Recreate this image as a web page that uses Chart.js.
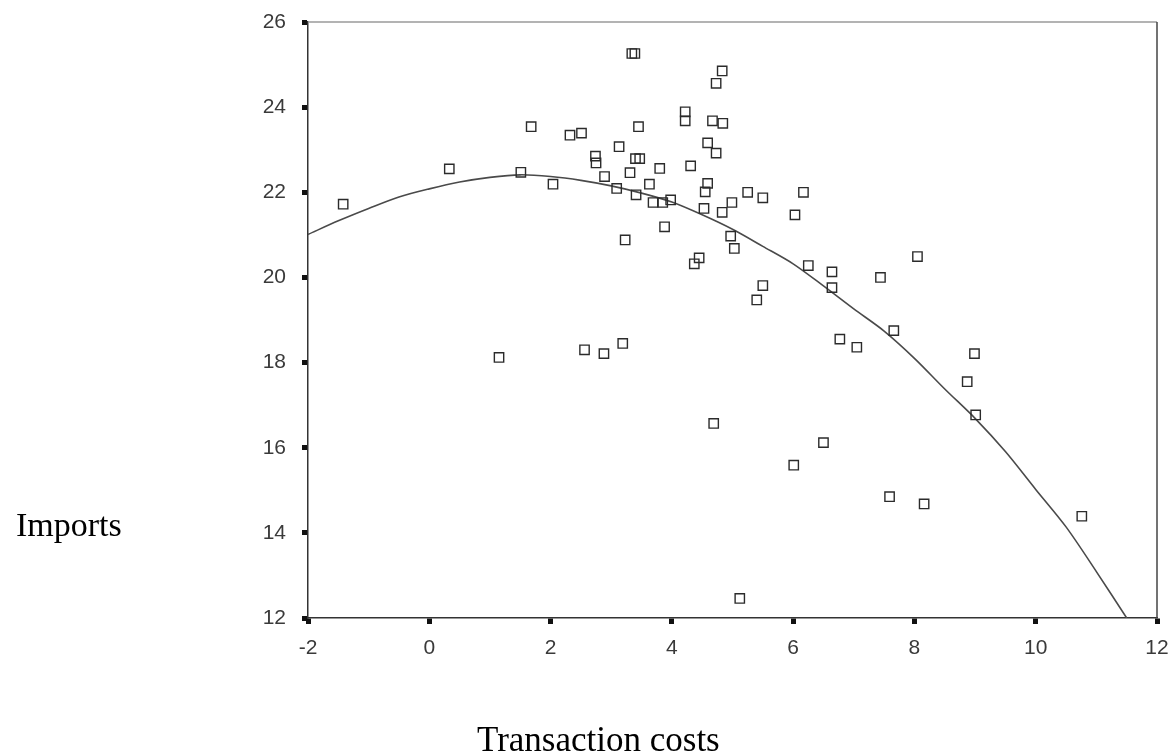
<!DOCTYPE html>
<html>
<head>
<meta charset="utf-8">
<script src="https://cdn.jsdelivr.net/npm/chart.js@4.4.1/dist/chart.umd.min.js"></script>
<style>
  html, body { margin: 0; padding: 0; background: #ffffff; overflow: hidden; }
  #wrap { position: relative; width: 1169px; height: 755px; }
  canvas { position: absolute; left: 0; top: 0; }
  .ttl { position: absolute; font-family: 'Liberation Serif', 'Times New Roman', Times, serif; font-size: 34px; line-height: 34px; color: #000; white-space: nowrap; }
</style>
</head>
<body>
<div id="wrap">
  <canvas id="c" width="1169" height="755"></canvas>
  <div class="ttl" id="ytitle" style="left:16px; top:508px;">Imports</div>
  <div class="ttl" id="xtitle" style="left:477px; top:723px; font-size:35px;">Transaction costs</div>
</div>
<script>
// Observed points: transaction costs (x) and imports (y)
const transactionCosts = [
  -1.42, 0.33, 1.15, 1.51, 1.68, 2.04, 2.32, 2.51, 2.56, 2.74,
  2.75, 2.89, 2.88, 3.13, 3.09, 3.19, 3.23, 3.31, 3.34, 3.39,
  3.40, 3.47, 3.41, 3.45, 3.63, 3.69, 3.80, 3.85, 3.88, 3.98,
  4.22, 4.22, 4.31, 4.37, 4.45, 4.53, 4.55, 4.59, 4.59, 4.67,
  4.69, 4.73, 4.73, 4.83, 4.84, 4.83, 4.99, 4.97, 5.03, 5.12,
  5.25, 5.40, 5.50, 5.50, 6.03, 6.01, 6.17, 6.25, 6.50, 6.64,
  6.64, 6.77, 7.05, 7.44, 7.59, 7.66, 8.05, 8.16, 8.87, 8.99,
  9.01, 10.76
];
const imports = [
  21.72, 22.55, 18.12, 22.47, 23.54, 22.19, 23.34, 23.39, 18.30, 22.85,
  22.69, 22.37, 18.21, 23.07, 22.09, 18.45, 20.88, 22.46, 25.26, 25.26,
  22.79, 22.79, 21.94, 23.54, 22.19, 21.76, 22.56, 21.76, 21.19, 21.82,
  23.89, 23.68, 22.62, 20.32, 20.46, 21.62, 22.01, 22.21, 23.16, 23.68,
  16.57, 24.56, 22.92, 21.53, 23.62, 24.85, 21.76, 20.97, 20.68, 12.46,
  22.00, 19.47, 21.87, 19.81, 21.47, 15.59, 22.00, 20.28, 16.12, 20.13,
  19.76, 18.55, 18.36, 20.00, 14.85, 18.75, 20.49, 14.68, 17.55, 18.21,
  16.77, 14.39
];

// Fitted curve
const fitX = [-2.0, -1.5, -1.0, -0.5, 0.0, 0.5, 1.0, 1.5, 2.0, 2.5, 3.0, 3.5, 4.0, 4.5,
              5.0, 5.5, 6.0, 6.5, 7.0, 7.5, 8.0, 8.5, 9.0, 9.5, 10.0, 10.5, 11.0, 11.5];
const fitY = [21.01, 21.33, 21.62, 21.89, 22.08, 22.24, 22.35, 22.41, 22.37, 22.28, 22.15, 21.98, 21.77, 21.47,
              21.13, 20.73, 20.32, 19.80, 19.26, 18.74, 18.10, 17.38, 16.69, 15.91, 15.02, 14.14, 13.09, 12.00];

// Tick labels
const xTickValues = [-2, 0, 2, 4, 6, 8, 10, 12];
const xTickLabels = ['-2', '0', '2', '4', '6', '8', '10', '12'];
const yTickValues = [12, 14, 16, 18, 20, 22, 24, 26];
const yTickLabels = ['12', '14', '16', '18', '20', '22', '24', '26'];

const points = transactionCosts.map((x, i) => ({ x: x, y: imports[i] }));
const curve = fitX.map((x, i) => ({ x: x, y: fitY[i] }));

const tickFont = { family: "'Liberation Sans Narrow', 'Arial Narrow', 'Liberation Sans', Arial, sans-serif", size: 21 };

const framePlugin = {
  id: 'frame',
  afterDraw(chart) {
    const a = chart.chartArea, ctx = chart.ctx;
    ctx.save();
    ctx.lineWidth = 1.5;
    ctx.strokeStyle = '#9a9a9a';
    ctx.beginPath();
    ctx.moveTo(a.left, a.top);
    ctx.lineTo(a.right, a.top);
    ctx.stroke();
    ctx.strokeStyle = '#444444';
    ctx.beginPath();
    ctx.moveTo(a.right, a.top);
    ctx.lineTo(a.right, a.bottom);
    ctx.stroke();
    ctx.restore();
  }
};

new Chart(document.getElementById('c'), {
  type: 'scatter',
  data: {
    datasets: [
      {
        label: 'Imports',
        data: points,
        pointStyle: 'rect',
        pointRadius: 6.6,
        pointHoverRadius: 6.6,
        borderColor: '#2b2b2b',
        backgroundColor: 'rgba(0,0,0,0)',
        borderWidth: 1.4,
        order: 1
      },
      {
        label: 'Fit',
        data: curve,
        showLine: true,
        pointRadius: 0,
        pointHoverRadius: 0,
        borderColor: '#4a4a4a',
        borderWidth: 1.6,
        tension: 0.3,
        fill: false,
        order: 2
      }
    ]
  },
  options: {
    responsive: false,
    animation: false,
    events: [],
    layout: { padding: { left: 248, right: 12, top: 22, bottom: 0 } },
    plugins: { legend: { display: false }, tooltip: { enabled: false } },
    scales: {
      x: {
        type: 'linear',
        min: -2, max: 12,
        afterFit(s) { s.height = 137; s.paddingLeft = 0; s.paddingRight = 0; },
        afterBuildTicks(s) { s.ticks = xTickValues.map(v => ({ value: v })); },
        ticks: {
          font: tickFont,
          color: '#3a3a3a',
          padding: 12,
          maxRotation: 0,
          callback: (v) => xTickLabels[xTickValues.indexOf(v)]
        },
        grid: { display: true, drawOnChartArea: false, drawTicks: true, tickLength: 6, tickWidth: 5, tickColor: '#111111' },
        border: { display: true, color: '#333333', width: 1.5 }
      },
      y: {
        type: 'linear',
        min: 12, max: 26,
        afterFit(s) { s.width = 60; s.paddingTop = 0; s.paddingBottom = 0; },
        afterBuildTicks(s) { s.ticks = yTickValues.map(v => ({ value: v })); },
        ticks: {
          font: tickFont,
          color: '#3a3a3a',
          padding: 16,
          callback: (v) => yTickLabels[yTickValues.indexOf(v)]
        },
        grid: { display: true, drawOnChartArea: false, drawTicks: true, tickLength: 6, tickWidth: 5, tickColor: '#111111' },
        border: { display: true, color: '#333333', width: 1.5 }
      }
    }
  },
  plugins: [framePlugin]
});
</script>
</body>
</html>
